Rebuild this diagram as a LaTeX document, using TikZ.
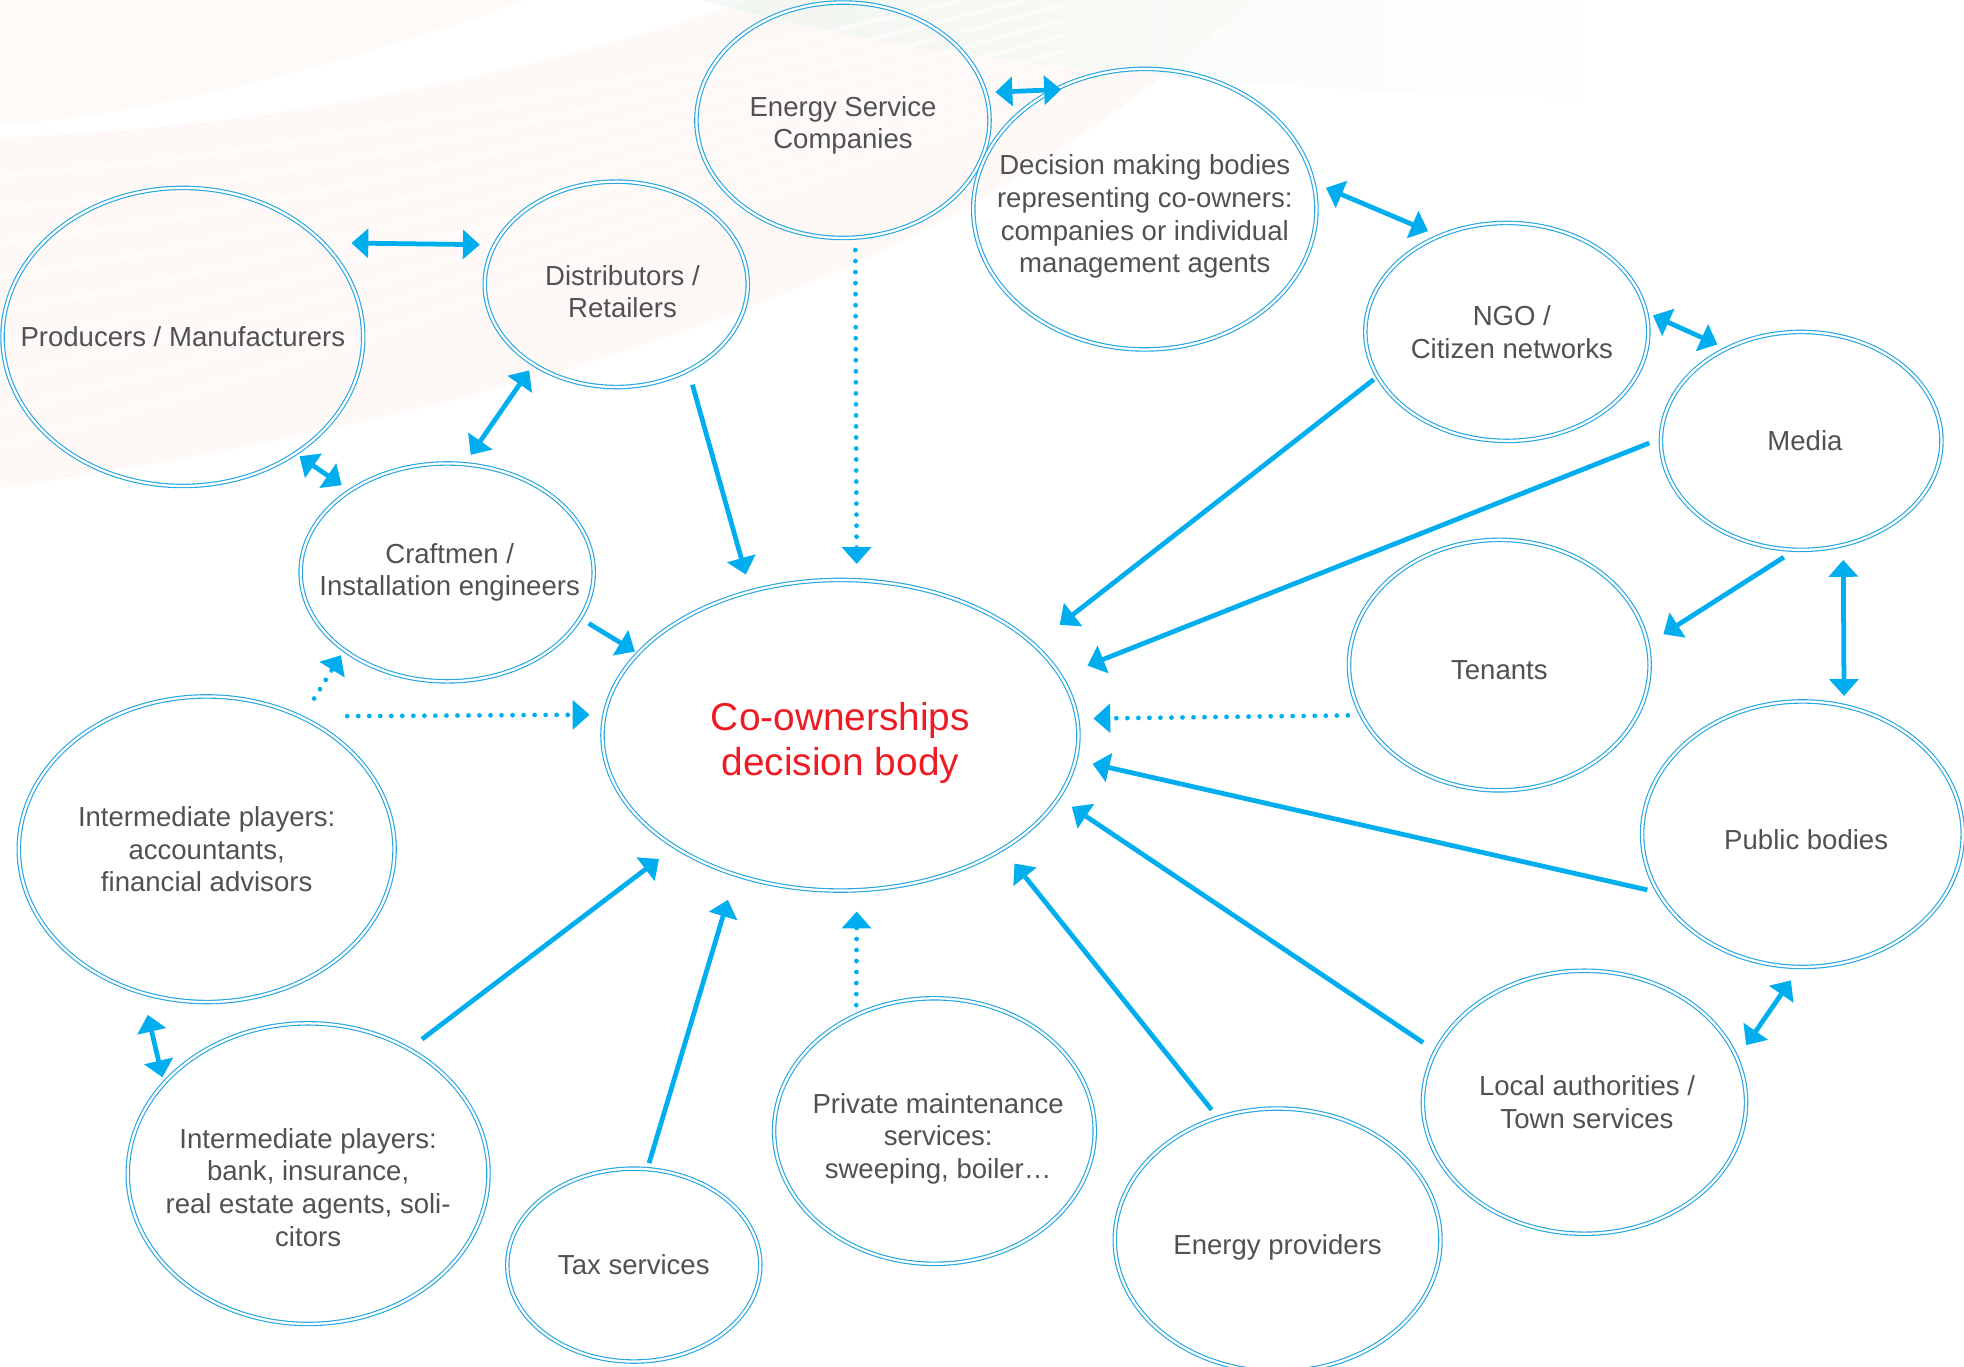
\documentclass[tikz,border=0pt]{standalone}
\usepackage{fontspec}
\setmainfont{Liberation Sans}
\usetikzlibrary{shapes.geometric}
\usetikzlibrary{arrows.meta}
\definecolor{cyanblue}{RGB}{0,174,239}
\definecolor{ringblue}{RGB}{38,166,224}
\definecolor{slate}{RGB}{80,81,85}
\definecolor{crimson}{RGB}{237,28,36}
\definecolor{peach}{RGB}{252,234,224}
\definecolor{mint}{RGB}{234,245,237}

\tikzset{
  bubble/.style={ellipse, draw=ringblue, line width=0.9pt, double=white, double distance=1.8pt,
                 inner sep=0pt, outer sep=0pt},
  txt/.style={text=slate, align=center, font=\fontsize{22}{26}\selectfont},
  hub/.style={text=crimson, align=center, font=\fontsize{31}{36}\selectfont},
  link/.style={cyanblue, line width=3.8pt, -{Triangle[length=13.5pt,width=23pt]}},
  twoway/.style={link, {Triangle[length=13.5pt,width=23pt]}-{Triangle[length=13.5pt,width=23pt]}},
  hint/.style={link, line width=3.8pt, line cap=round, dash pattern=on 0pt off 8.8pt},
}

\begin{document}
\begin{tikzpicture}[x=1pt, y=-1pt]
    \useasboundingbox (0,0) rectangle (1568,1091);

    % faint backdrop
    \fill[peach, opacity=.3] (0,110) .. controls (250,100) and (450,50) .. (600,0) -- (1000,0)
         .. controls (820,160) and (600,300) .. (0,390) -- cycle;
    \fill[peach, opacity=.25] (0,0) -- (420,0) .. controls (250,60) and (120,90) .. (0,100) -- cycle;
    \shade[left color=mint, right color=white, opacity=.6] (560,0) .. controls (700,40) and (900,70) .. (1300,80) -- (1300,0) -- cycle;
    \foreach \k in {0,...,8}
        \draw[white, line width=3pt, opacity=.6] (0,140+\k*27) .. controls (300,120+\k*20) and (600,40+\k*14) .. (850,-20+\k*12);

    % actors
    \node[bubble, minimum width=234pt, minimum height=188pt, label={[txt, yshift=-4pt]center:{Energy Service\\Companies}}] (esco) at (673,96) {};
    \node[bubble, minimum width=274pt, minimum height=224pt,
          label={[txt, yshift=-6pt]center:{Decision making bodies\\representing co-owners:\\companies or individual\\management agents}}] (dec) at (914,167) {};
    \node[bubble, minimum width=288pt, minimum height=238pt, label={[txt]center:{Producers / Manufacturers}}]              (prod)    at (146,269)  {};
    \node[bubble, minimum width=210pt, minimum height=164pt, label={[txt, xshift=5pt, yshift=-6pt]center:{Distributors /\\Retailers}}] (dist) at (492,227) {};
    \node[bubble, minimum width=226pt, minimum height=174pt, label={[txt, xshift=4pt]center:{NGO /\\Citizen networks}}]  (ngo)     at (1203,265) {};
    \node[bubble, minimum width=224pt, minimum height=174pt, label={[txt, xshift=3pt]center:{Media}}]                     (media)   at (1438,352) {};
    \node[bubble, minimum width=234pt, minimum height=174pt, label={[txt, xshift=2pt]center:{Craftmen /\\Installation engineers}}] (craft) at (357,457) {};
    \node[bubble, minimum width=380pt, minimum height=248pt, label={[hub, yshift=-6pt]center:{Co-ownerships\\decision body}}] (central) at (671,587) {};
    \node[bubble, minimum width=240pt, minimum height=200pt, label={[txt, yshift=-4pt]center:{Tenants}}]                  (tenants) at (1197,531) {};
    \node[bubble, minimum width=256pt, minimum height=212pt, label={[txt, xshift=3pt, yshift=-4pt]center:{Public bodies}}] (public) at (1439,666) {};
    \node[bubble, minimum width=300pt, minimum height=244pt,
          label={[txt]center:{Intermediate players:\\accountants,\\financial advisors}}]                                  (acct)    at (165,678)  {};
    \node[bubble, minimum width=288pt, minimum height=240pt,
          label={[txt, yshift=-11pt]center:{Intermediate players:\\bank, insurance,\\real estate agents, soli-\\citors}}]  (bank)    at (246,937)  {};
    \node[bubble, minimum width=202pt, minimum height=154pt, label={[txt]center:{Tax services}}]                          (tax)     at (506,1010) {};
    \node[bubble, minimum width=256pt, minimum height=212pt,
          label={[txt, xshift=3pt, yshift=-6pt]center:{Private maintenance\\services:\\sweeping, boiler…}}]             (priv)    at (746,903)  {};
    \node[bubble, minimum width=260pt, minimum height=210pt, label={[txt, yshift=-6pt]center:{Energy providers}}]         (eprov)   at (1020,990) {};
    \node[bubble, minimum width=258pt, minimum height=210pt, label={[txt, xshift=2pt]center:{Local authorities /\\Town services}}] (local) at (1265,880) {};

    % exchanges between actors
    \draw[twoway, shorten <=23pt, shorten >=12pt]  (prod.34)    -- (dist.162);
    \draw[twoway, shorten <=6pt, shorten >=9pt]    (dist.224)   -- (craft.81);
    \draw[twoway, shorten <=4pt, shorten >=8pt]    (prod.-46)   -- (craft.140);
    \draw[twoway, shorten <=8pt, shorten >=-5pt]   (esco.11)    -- (dec.127);
    \draw[twoway, shorten <=11pt, shorten >=10pt]  (dec.9)      -- (ngo.125);
    \draw[twoway, shorten <=6pt, shorten >=8pt]    (ngo.8)      -- (media.129);
    \draw[twoway, shorten <=12pt, shorten >=8pt]   (media.-68)  -- (public.72);
    \draw[twoway, shorten <=13pt, shorten >=13pt]  (public.-91) -- (local.16);
    \draw[twoway, shorten <=18pt, shorten >=5pt]   (acct.246)   -- (bank.148);

    % influence on the decision body
    \draw[link, shorten <=12pt, shorten >=14pt]    (dist.-50)    -- (central.122);
    \draw[link, shorten <=4pt, shorten >=26pt]     (ngo.199)     -- (central.25);
    \draw[link, shorten <=10pt, shorten >=23pt]    (media.179)   -- (central.15);
    \draw[link, shorten <=11pt, shorten >=15pt]    (media.267)   -- (tenants.8);
    \draw[link, shorten <=9pt, shorten >=14pt]     (public.202)  -- (central.-6.5);
    \draw[link, shorten <=12pt, shorten >=13pt]    (local.161)   -- (central.-16);
    \draw[link, shorten <=8pt, shorten >=15pt]     (eprov.116)   -- (central.-35);
    \draw[link, shorten <=5pt, shorten >=21pt]     (tax.82)      -- (central.233);
    \draw[link, shorten <=13pt, shorten >=16pt]    (bank.51)     -- (central.214.5);
    \draw[link, shorten <=8pt, shorten >=3pt]      (craft.-19.5) -- (central.158);

    % indirect influence
    \draw[hint, shorten <=10pt, shorten >=13pt]    (esco.-84)    -- (central.84.5);
    \draw[hint, shorten <=11pt, shorten >=13pt]    (tenants.200.5) -- (central.4.5);
    \draw[hint, shorten <=8pt, shorten >=17pt]     (priv.124.3)  -- (central.-84.5);
    \draw[hint, shorten <=38pt, shorten >=12pt]    (acct.55)     -- (central.175.5);
    \draw[hint, shorten <=18pt, shorten >=5pt]     (acct.54.9)   -- (craft.217.8);
\end{tikzpicture}
\end{document}
